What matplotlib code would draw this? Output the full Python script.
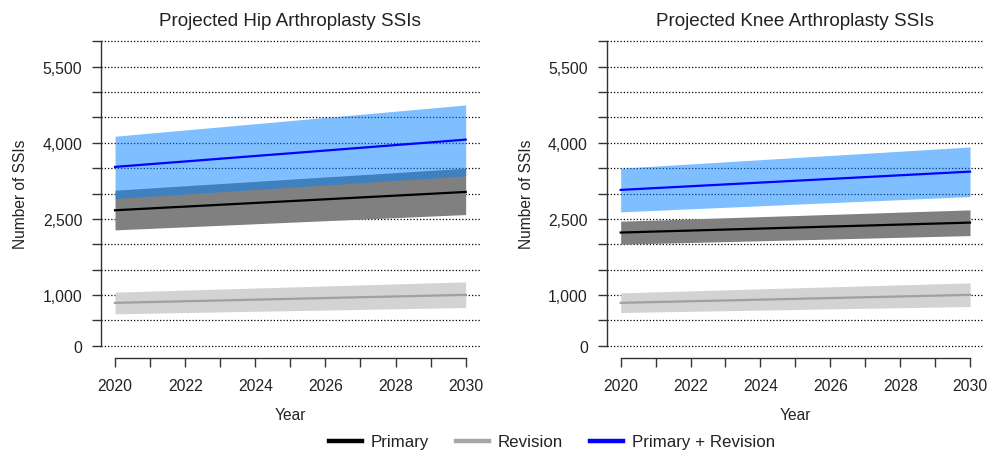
import matplotlib
matplotlib.use("Agg")
import matplotlib.pyplot as plt
from matplotlib.lines import Line2D

plt.rcParams['font.family'] = ['Liberation Sans', 'DejaVu Sans']

years = list(range(2020, 2031))

hip_primary = [2670, 2706, 2742, 2778, 2814, 2850, 2886, 2922, 2958, 2994, 3031]
hip_primary_lo = [2283, 2313, 2343, 2373, 2404, 2434, 2464, 2494, 2524, 2555, 2585]
hip_primary_hi = [3065, 3108, 3152, 3195, 3238, 3282, 3325, 3368, 3411, 3455, 3498]
hip_total = [3524, 3578, 3631, 3685, 3739, 3792, 3846, 3900, 3954, 4007, 4061]
hip_total_lo = [2900, 2945, 2989, 3034, 3078, 3123, 3168, 3212, 3257, 3301, 3346]
hip_total_hi = [4128, 4190, 4251, 4313, 4374, 4436, 4498, 4559, 4621, 4682, 4744]
hip_revision = [846, 862, 878, 893, 909, 925, 941, 957, 972, 988, 1004]
hip_revision_lo = [630, 642, 655, 667, 680, 692, 704, 717, 729, 742, 754]
hip_revision_hi = [1057, 1077, 1098, 1118, 1138, 1158, 1179, 1199, 1219, 1240, 1260]

knee_primary = [2231, 2251, 2270, 2290, 2309, 2329, 2349, 2368, 2388, 2407, 2427]
knee_primary_lo = [2001, 2018, 2035, 2052, 2069, 2086, 2103, 2120, 2137, 2154, 2171]
knee_primary_hi = [2455, 2477, 2499, 2522, 2544, 2566, 2588, 2610, 2633, 2655, 2677]
knee_total = [3071, 3107, 3143, 3179, 3215, 3251, 3287, 3323, 3359, 3395, 3431]
knee_total_lo = [2638, 2668, 2698, 2728, 2758, 2789, 2819, 2849, 2879, 2909, 2939]
knee_total_hi = [3498, 3540, 3582, 3624, 3666, 3708, 3749, 3791, 3833, 3875, 3917]
knee_revision = [846, 862, 878, 893, 909, 925, 941, 957, 972, 988, 1004]
knee_revision_lo = [656, 668, 680, 691, 703, 715, 727, 739, 750, 762, 774]
knee_revision_hi = [1043, 1063, 1082, 1102, 1122, 1142, 1161, 1181, 1201, 1220, 1240]

y_ticks = list(range(0, 6001, 500))
y_labeled = [0, 1000, 2500, 4000, 5500]
x_labeled = [2020, 2022, 2024, 2026, 2028, 2030]

titles = ["Projected Hip Arthroplasty SSIs", "Projected Knee Arthroplasty SSIs"]
legend_labels = ["Primary", "Revision", "Primary + Revision"]

C_PRIM_BAND = "#808080"
C_REV_BAND = "#D3D3D3"
C_REV_LINE = "#A0A0A0"
C_TOT_BAND = (0.0, 0.5, 1.0, 0.5)
C_TOT_LINE = "#0000FF"

W, H = 989, 452
fig = plt.figure(figsize=(W / 100, H / 100), dpi=100)

axes_px = [(101, 30, 378.7, 329), (606.7, 30, 377.3, 329)]

panels = [
    (hip_primary, hip_primary_lo, hip_primary_hi, hip_total, hip_total_lo, hip_total_hi,
     hip_revision, hip_revision_lo, hip_revision_hi),
    (knee_primary, knee_primary_lo, knee_primary_hi, knee_total, knee_total_lo, knee_total_hi,
     knee_revision, knee_revision_lo, knee_revision_hi),
]

for (l, t, w, h), title, data in zip(axes_px, titles, panels):
    ax = fig.add_axes([l / W, 1 - (t + h) / H, w / W, h / H])
    prim, prim_lo, prim_hi, tot, tot_lo, tot_hi, rev, rev_lo, rev_hi = data
    for yv in y_ticks:
        ax.axhline(yv, color="black", lw=0.9, ls=(0, (1, 1.6)), zorder=1)
    ax.fill_between(years, rev_lo, rev_hi, color=C_REV_BAND, lw=0, zorder=2)
    ax.fill_between(years, prim_lo, prim_hi, color=C_PRIM_BAND, lw=0, zorder=2)
    ax.fill_between(years, tot_lo, tot_hi, color=C_TOT_BAND, lw=0, zorder=3)
    ax.plot(years, rev, color=C_REV_LINE, lw=1.6, zorder=4)
    ax.plot(years, prim, color="black", lw=1.6, zorder=4)
    ax.plot(years, tot, color=C_TOT_LINE, lw=1.6, zorder=4)

    ax.set_xlim(2019.6, 2030.4)
    ax.set_ylim(-240, 6240)
    for s in ["top", "right"]:
        ax.spines[s].set_visible(False)
    ax.spines["left"].set_bounds(0, 6000)
    ax.spines["bottom"].set_bounds(2020, 2030)
    ax.spines["left"].set_color("#333333")
    ax.spines["bottom"].set_color("#333333")
    ax.spines["left"].set_linewidth(1.0)
    ax.spines["bottom"].set_linewidth(1.0)

    ax.set_yticks(y_ticks)
    ax.set_yticklabels([f"{v:,}" if v in y_labeled else "" for v in y_ticks])
    ax.set_xticks(years)
    ax.set_xticklabels([str(v) if v in x_labeled else "" for v in years])
    ax.tick_params(axis="both", length=6.5, width=1.0, color="#333333",
                   labelsize=11.3, labelcolor="#222222")
    ax.tick_params(axis="y", pad=7)
    ax.tick_params(axis="x", pad=8)
    ax.set_ylabel("Number of SSIs", fontsize=11.2, color="#222222", labelpad=10)
    ax.set_xlabel("Year", fontsize=11.2, color="#222222", labelpad=10)
    ax.set_title(title, fontsize=13.6, color="#222222", pad=1.5)

handles = [
    Line2D([0], [0], color="black", lw=3.2),
    Line2D([0], [0], color="#A6A6A6", lw=3.2),
    Line2D([0], [0], color=C_TOT_LINE, lw=3.2),
]
fig.legend(handles, legend_labels, loc="center", bbox_to_anchor=(552 / W, 1 - 443 / H),
           ncol=3, frameon=False, fontsize=12.2, handlelength=1.95, handletextpad=0.5,
           columnspacing=1.6, labelcolor="#222222")

fig.savefig("out.png", dpi=100)
